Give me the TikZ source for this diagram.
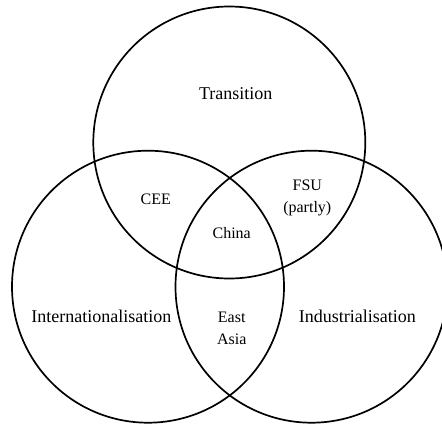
\documentclass[tikz,border=0pt]{standalone}
\usepackage{fontspec}
\setmainfont{Liberation Serif}
\begin{document}
\begin{tikzpicture}[x=1pt,y=-1pt,
  setcircle/.style={draw=black,line width=1.7pt,circle,minimum size=272pt,inner sep=0pt,outer sep=0pt},
  biglabel/.style={font=\fontsize{18}{22}\selectfont,inner sep=0pt},
  smalllabel/.style={font=\fontsize{16}{22}\selectfont,inner sep=0pt,align=center}]
\useasboundingbox (0,0) rectangle (442,424);
\node[setcircle] (top) at (229.3,142.5) {};
\node[setcircle] (left) at (148,286.7) {};
\node[setcircle] (right) at (311.5,286.7) {};
\node[biglabel] (trans) at (235.8,93.3) {Transition};
\node[biglabel] (intl) at (101.3,316) {Internationalisation};
\node[biglabel] (ind) at (357.3,316) {Industrialisation};
\node[smalllabel] (cee) at (155.7,199.3) {CEE};
\node[smalllabel] (fsu) at (307.3,198.2) {FSU\\(partly)};
\node[smalllabel] (china) at (231.7,232.7) {China};
\node[smalllabel] (east) at (231.7,328.8) {East\\Asia};
\end{tikzpicture}
\end{document}
